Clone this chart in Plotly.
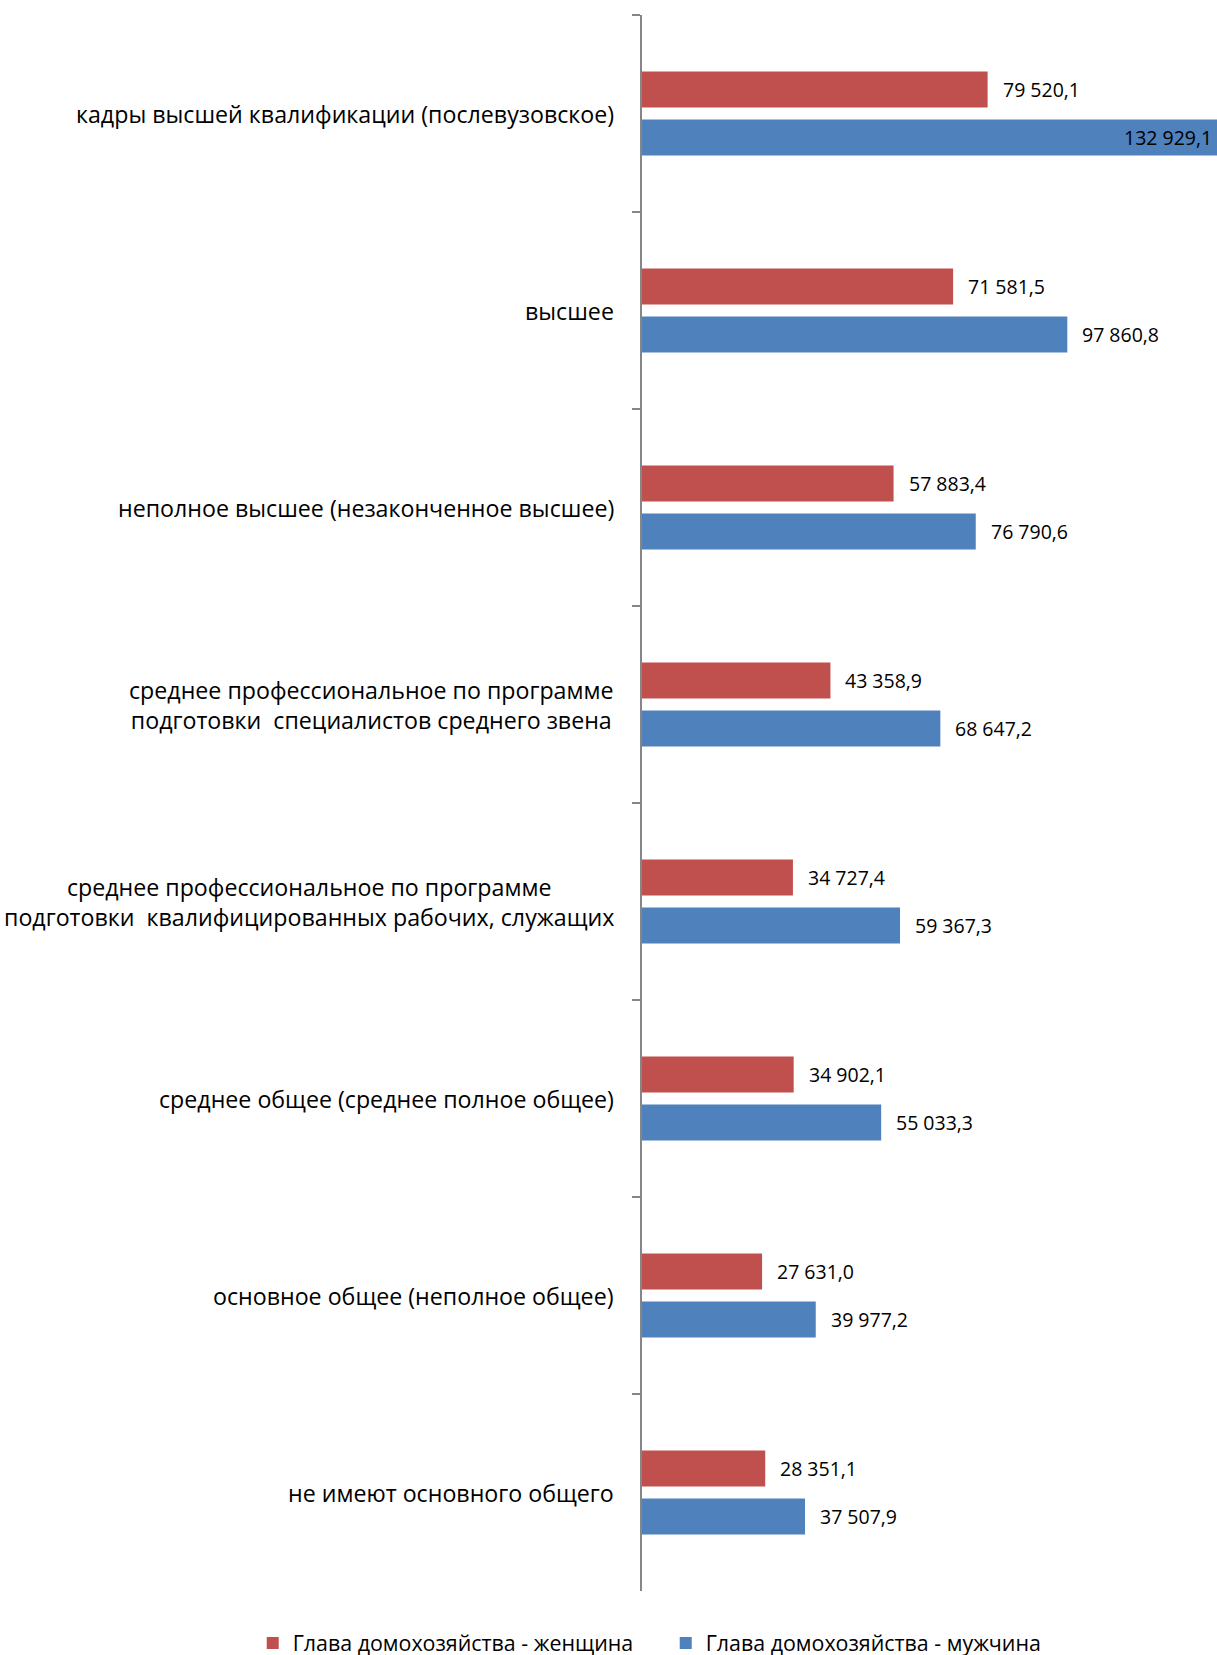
import plotly.graph_objects as go

categories = [
    "кадры высшей квалификации (послевузовское)",
    "высшее",
    "неполное высшее (незаконченное высшее)",
    "среднее профессиональное по программе<br>подготовки\u00a0\u00a0специалистов среднего звена",
    "среднее профессиональное по программе<br>подготовки\u00a0\u00a0квалифицированных рабочих, служащих",
    "среднее общее (среднее полное общее)",
    "основное общее (неполное общее)",
    "не имеют основного общего",
]
women = [79520.1, 71581.5, 57883.4, 43358.9, 34727.4, 34902.1, 27631.0, 28351.1]
men = [132929.1, 97860.8, 76790.6, 68647.2, 59367.3, 55033.3, 39977.2, 37507.9]
series_names = ["Глава домохозяйства - женщина", "Глава домохозяйства - мужчина"]
colors = ["#C0504D", "#4F81BD"]

XMAX = 132300
FONT = "Open Sans"


def fmt(v):
    return f"{v:,.1f}".replace(",", " ").replace(".", ",")


fig = go.Figure()
for name, vals, col in zip(series_names, [women, men], colors):
    fig.add_trace(go.Bar(
        y=categories, x=vals, orientation="h", name=name,
        marker=dict(color=col, line=dict(width=0)),
    ))

annotations = []
for ti, vals in enumerate([women, men]):
    for i, v in enumerate(vals):
        yoff = (-0.125 if ti == 0 else 0.125) * 0.97
        if v > 0.9 * XMAX:
            annotations.append(dict(x=XMAX, y=i + yoff, xref="x", yref="y", text=fmt(v),
                                    showarrow=False, xanchor="right", xshift=-3,
                                    font=dict(family=FONT, size=19.5, color="black")))
        else:
            annotations.append(dict(x=v, y=i + yoff, xref="x", yref="y", text=fmt(v),
                                    showarrow=False, xanchor="left", xshift=13,
                                    font=dict(family=FONT, size=19.5, color="black")))

for i, c in enumerate(categories):
    annotations.append(dict(x=0, y=i, xref="paper", yref="y", text=c, showarrow=False,
                            xanchor="right", xshift=-26, align="center",
                            font=dict(family=FONT, size=23.2, color="black")))

fig.update_layout(
    width=1217, height=1655,
    margin=dict(l=642, r=0, t=15, b=64, autoexpand=False),
    paper_bgcolor="white", plot_bgcolor="white",
    barmode="group", bargap=0.513, bargroupgap=0.25,
    font=dict(family=FONT, color="black"),
    annotations=annotations,
    legend=dict(orientation="h", x=-0.677, xanchor="left", y=-0.033, yanchor="middle",
                font=dict(family=FONT, size=21.4, color="black"),
                entrywidth=368, entrywidthmode="pixels", itemwidth=30),
    showlegend=True,
)
fig.update_xaxes(range=[0, XMAX], showgrid=False, showticklabels=False, zeroline=False,
                 showline=False, ticks="")
fig.update_yaxes(type="category", categoryorder="array", categoryarray=categories,
                 autorange="reversed", showgrid=False, showticklabels=False,
                 showline=True, linecolor="#868686", linewidth=2,
                 ticks="outside", tickson="boundaries", ticklen=8, tickcolor="#868686",
                 tickwidth=2, zeroline=False)

fig.write_html("out.html", config={"displayModeBar": False},
               post_script="document.body.style.margin='0';document.body.style.overflow='hidden';")
